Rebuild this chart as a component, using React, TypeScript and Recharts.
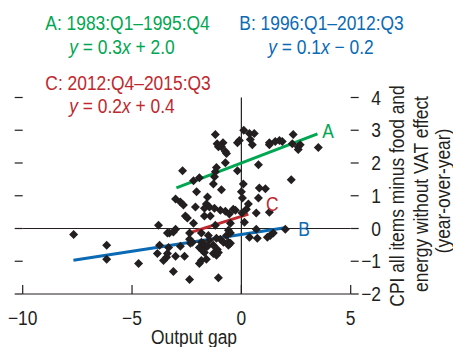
import React from 'react';
import { ScatterChart, Scatter, XAxis, YAxis, ReferenceLine, ReferenceDot, Customized } from 'recharts';

const outputGap = [
  -1.19, 0.11, 0.37, 0.59, -1.11, -0.84, -1.05, -0.91, -0.18, -0.09,
  0.41, 0.5, -0.73, -0.68, 1.28, 1.28, 1.55, 1.74, 1.87, 2.37,
  2.33, 2.6, 2.69, 2.6, 3.52, -0.73, 0.78, -0.18, -1.14, -1.19,
  -2.69, -1.92, -2.19, -1.23, 2.28, 0.09, -1.28, -0.91, -2.05, 0.82,
  1.1, 0.0, 0.05, -3.01, -2.79, -2.65, -1.55, 0.78, -1.6, -1.46,
  -1.69, -2.1, 0.32, -1.23, -0.96, -0.73, -0.37, -0.27, 0.23, 0.68,
  1.28, -2.56, -1.69, -1.42, -0.55, -2.47, -2.19, -3.79, -3.01, -1.19,
  -0.5, 0.14, -3.38, -3.29, -3.11, -2.37, -1.83, -1.51, -0.59, -0.5,
  0.68, 2.01, -7.67, -2.37, -2.24, -1.83, -1.74, -1.46, -1.14, -0.96,
  -0.82, -0.68, -0.59, 0.37, 0.73, 1.19, 1.32, 1.46, -6.16, -3.74,
  -3.33, -2.79, -2.33, -1.92, -1.69, -1.55, -1.28, -1.1, -0.59, -0.5,
  -1.78, -1.69, -1.28, -1.14, -1.05, -3.38, -3.84, -3.42, -3.01, -2.6,
  -6.16, -3.56, -1.83, -1.92, -1.6, -4.7, -3.11, -1.05, -2.37, 0.03,
];
const coreCpi = [
  2.87, 3.0, 2.9, 2.9, 2.59, 2.62, 2.5, 2.5, 2.62, 2.69,
  2.72, 2.56, 2.35, 2.29, 2.62, 2.56, 2.66, 2.69, 2.66, 2.87,
  2.59, 2.5, 2.56, 2.41, 2.47, 2.01, 1.95, 1.76, 1.86, 1.73,
  1.76, 1.55, 1.46, 1.58, 1.49, 1.36, 1.36, 1.18, 1.12, 1.24,
  1.21, 1.12, 0.93, 0.9, 0.81, 0.72, 0.96, 0.93, 0.75, 0.66,
  0.62, 0.66, 0.75, 0.62, 0.56, 0.53, 0.59, 0.56, 0.59, 0.47,
  0.5, 0.38, 0.38, 0.38, 0.44, 0.32, 0.16, 0.1, -0.02, 0.1,
  0.16, 0.19, -0.14, -0.14, -0.11, -0.14, -0.14, -0.21, -0.05, -0.14,
  -0.02, -0.02, -0.18, -0.33, -0.42, -0.42, -0.45, -0.36, -0.3, -0.33,
  -0.42, -0.21, -0.42, -0.27, -0.3, -0.27, -0.21, -0.14, -0.51, -0.51,
  -0.58, -0.54, -0.45, -0.58, -0.58, -0.54, -0.51, -0.64, -0.51, -0.45,
  -0.67, -0.73, -0.76, -0.82, -0.73, -0.76, -0.76, -0.88, -0.85, -0.85,
  -0.94, -0.98, -0.98, -1.07, -0.94, -1.07, -1.31, -1.5, -1.56, 0.47,
];

const xTicks = [-10, -5, 0, 5];
const yTicks = [-2, -1, 0, 1, 2, 3, 4];

const fitA = [{ x: -2.97, y: 1.24 }, { x: 3.48, y: 2.89 }];
const fitB = [{ x: -7.68, y: -0.97 }, { x: 2.0, y: 0.02 }];
const fitC = [{ x: -2.45, y: -0.15 }, { x: 0.32, y: 0.44 }];

const fitLabels = [
  { name: 'A', x: 3.96, y: 2.98 },
  { name: 'B', x: 2.87, y: 0.0 },
  { name: 'C', x: 1.41, y: 0.76 },
];

const GREEN = '#00a651';
const BLUE = '#0a6ab4';
const RED = '#c0282e';
const INK = '#231f20';
const FONT = "'Liberation Sans', Arial, sans-serif";
const FS = 20;
const SX = 0.87;

const points = outputGap.map((g, i) => ({ x: g, y: coreCpi[i] }));
const colorOf: Record<string, string> = { A: GREEN, B: BLUE, C: RED };

const fmt = (v: number) => (v < 0 ? `\u2212${Math.abs(v)}` : `${v}`);

const T = (props: any) => {
  const { x, y, anchor = 'middle', fill = INK, rotate = false, children } = props;
  return (
    <text
      x={0}
      y={0}
      transform={`translate(${x},${y})${rotate ? ' rotate(-90)' : ''} scale(${SX},1)`}
      textAnchor={anchor}
      fill={fill}
      fontFamily={FONT}
      fontSize={FS}
    >
      {children}
    </text>
  );
};

const Diamond = (props: any) => {
  const { cx, cy } = props;
  const r = 4.5;
  return (
    <polygon
      points={`${cx},${cy - r} ${cx + r},${cy} ${cx},${cy + r} ${cx - r},${cy}`}
      fill={INK}
    />
  );
};

const Nothing = () => <g />;

const XTick = (props: any) => {
  const { x, y, payload } = props;
  return (
    <g>
      <line x1={x} x2={x} y1={y - 9} y2={y} stroke={INK} strokeWidth={1.2} />
      <T x={x} y={y + 31}>{fmt(payload.value)}</T>
    </g>
  );
};

const YTickRight = (props: any) => {
  const { y, payload } = props;
  return (
    <T x={381} y={y + 7} anchor="end">
      {fmt(payload.value)}
    </T>
  );
};

const Annotations = () => (
  <g>
    <T x={127.5} y={29.5} fill={GREEN}>A: 1983:Q1–1995:Q4</T>
    <T x={122} y={54} fill={GREEN}>
      <tspan fontStyle="italic">y</tspan> = 0.3<tspan fontStyle="italic">x</tspan> + 2.0
    </T>
    <T x={321.5} y={29.5} fill={BLUE}>B: 1996:Q1–2012:Q3</T>
    <T x={321} y={54} fill={BLUE}>
      <tspan fontStyle="italic">y</tspan> = 0.1<tspan fontStyle="italic">x</tspan> − 0.2
    </T>
    <T x={128} y={89.5} fill={RED}>C: 2012:Q4–2015:Q3</T>
    <T x={122} y={113} fill={RED}>
      <tspan fontStyle="italic">y</tspan> = 0.2<tspan fontStyle="italic">x</tspan> + 0.4
    </T>
    <T x={194} y={344}>Output gap</T>
    <T x={404} y={196} rotate>CPI all items minus food and</T>
    <T x={428} y={194} rotate>energy without VAT effect</T>
    <T x={450} y={191} rotate>(year-over-year)</T>
  </g>
);

export default function App() {
  return (
    <div style={{ position: 'absolute', left: 0, top: 0, width: 453, height: 347, background: '#fff' }}>
      <ScatterChart width={453} height={347} margin={{ top: 97.5, right: 0, bottom: 0, left: 0 }}>
        <XAxis
          type="number"
          dataKey="x"
          domain={[-10, 5]}
          ticks={xTicks}
          allowDataOverflow
          height={53}
          tickSize={0}
          tickMargin={0}
          tickLine={false}
          axisLine={{ stroke: INK, strokeWidth: 1.2 }}
          tick={<XTick />}
        />
        <YAxis
          yAxisId="left"
          type="number"
          dataKey="y"
          orientation="left"
          domain={[-2, 4]}
          ticks={yTicks}
          width={22.7}
          tickSize={8}
          axisLine={false}
          tickLine={{ stroke: INK, strokeWidth: 1.2 }}
          tick={<Nothing />}
        />
        <YAxis
          yAxisId="right"
          type="number"
          dataKey="y"
          orientation="right"
          domain={[-2, 4]}
          ticks={yTicks}
          width={102.3}
          tickSize={8}
          tickMargin={0}
          axisLine={false}
          tickLine={{ stroke: INK, strokeWidth: 1.2 }}
          tick={<YTickRight />}
        />
        <ReferenceLine yAxisId="left" y={0} stroke={INK} strokeWidth={1.2} />
        <ReferenceLine yAxisId="left" x={0} stroke={INK} strokeWidth={1.2} />
        <Scatter
          yAxisId="right"
          data={points}
          isAnimationActive={false}
          shape={<Nothing />}
        />
        <Scatter
          yAxisId="left"
          data={points}
          isAnimationActive={false}
          shape={<Diamond />}
        />
        <ReferenceLine yAxisId="left" segment={fitA} stroke={GREEN} strokeWidth={3} />
        <ReferenceLine yAxisId="left" segment={fitB} stroke={BLUE} strokeWidth={3} />
        <ReferenceLine yAxisId="left" segment={fitC} stroke={RED} strokeWidth={3} />
        {fitLabels.map((l) => (
          <ReferenceDot
            key={l.name}
            yAxisId="left"
            x={l.x}
            y={l.y}
            r={0}
            fill="none"
            stroke="none"
            label={{
              position: 'center',
              content: (p: any) => {
                const vb = p.viewBox || {};
                const cx = (vb.x || 0) + (vb.width || 0) / 2;
                const cy = (vb.y || 0) + (vb.height || 0) / 2;
                return (
                  <T x={cx} y={cy + 7} fill={colorOf[l.name]}>
                    {l.name}
                  </T>
                );
              },
            }}
          />
        ))}
        <Customized component={Annotations} />
      </ScatterChart>
    </div>
  );
}
